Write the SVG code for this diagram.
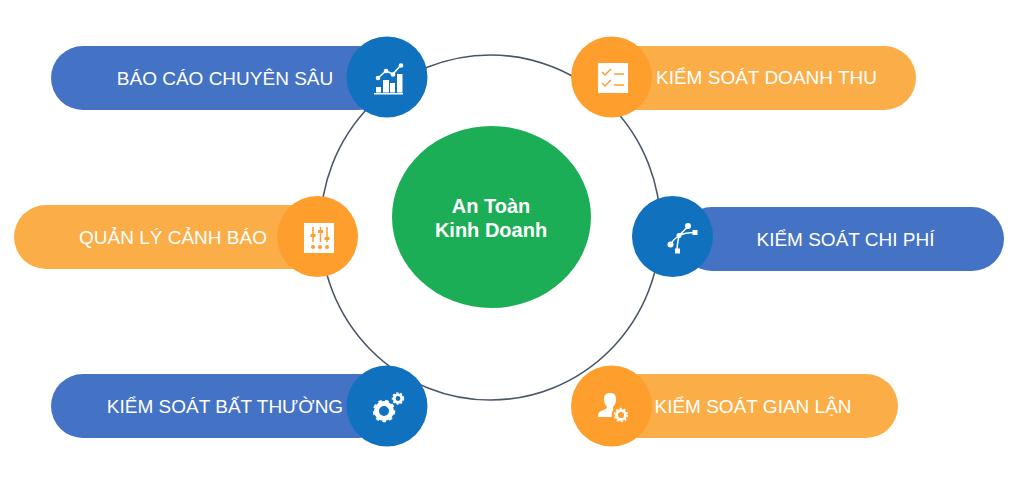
<svg xmlns="http://www.w3.org/2000/svg" width="1024" height="479" viewBox="0 0 1024 479">
<style>
.lbl{font-family:"Liberation Sans",Arial,sans-serif;font-size:19px;fill:#fff;text-anchor:middle}
.title{font-family:"Liberation Sans",Arial,sans-serif;font-size:20px;font-weight:bold;fill:#fff;text-anchor:middle}
.pb{fill:#4472c4}.po{fill:#fbae47}.cb{fill:#1071bf}.co{fill:#fd9e2d}
.w{fill:#fff}.wl{fill:none;stroke:#fff;stroke-width:1.5}
.ol{fill:none;stroke:#fd9e2d;stroke-width:1.5}.of{fill:#fd9e2d}
</style>
<rect width="1024" height="479" fill="#fff"/>
<g id="connectors"><ellipse cx="490.500" cy="227.500" rx="170" ry="172.500" fill="none" stroke="#4a5568" stroke-width="1.6"/></g>
<g id="center"><ellipse cx="491.500" cy="217" rx="99.500" ry="91" fill="#1cae57"/>
<text class="title" x="491" y="213">An Toàn</text><text class="title" x="491" y="237">Kinh Doanh</text></g>
<g id="n1"><rect class="pb" x="51" y="46" width="340" height="64" rx="32"/>
<circle class="cb" cx="387" cy="77" r="40.500"/>
<text class="lbl" x="225" y="85">BÁO CÁO CHUYÊN SÂU</text>
<path class="w" d="M374 93h29v1.500h-29zM376 87h5v5.500h-5zM383 80h6v12.500h-6zM390 83h5v9.500h-5zM397 74h5.500v18.500h-5.500z"/>
<path class="wl" d="M378 78l8-7 7 3 8-9"/><circle class="w" cx="378" cy="78" r="2.300"/><circle class="w" cx="386" cy="71" r="2.300"/><circle class="w" cx="393" cy="74.500" r="2.300"/><circle class="w" cx="401" cy="65.500" r="2.300"/></g>
<g id="n2"><rect class="po" x="590" y="46" width="326" height="64" rx="32"/>
<circle class="co" cx="611.500" cy="77" r="40.500"/>
<text class="lbl" x="766.500" y="84">KIỂM SOÁT DOANH THU</text>
<rect class="w" x="598" y="63" width="30" height="30"/>
<path class="ol" d="M602 72l3 3 6-6M602 83l3 3 6-6M614 74h10M614 85h10"/></g>
<g id="n3"><rect class="po" x="14" y="205" width="320" height="64" rx="32"/>
<circle class="co" cx="317.500" cy="236.500" r="40.500"/>
<text class="lbl" x="173" y="244">QUẢN LÝ CẢNH BÁO</text>
<rect class="w" x="304" y="223" width="30" height="30"/>
<path class="ol" d="M313 227v15M320.500 227v15M327 227v15"/>
<path class="of" d="M310.500 234h5v3h-5zM318 230h5v3h-5zM324.500 237h5v3h-5z"/>
<circle class="of" cx="313" cy="247" r="2"/><circle class="of" cx="320" cy="247" r="2"/><circle class="of" cx="327" cy="247" r="2"/></g>
<g id="n4"><rect class="pb" x="680" y="207" width="324" height="64" rx="32"/>
<circle class="cb" cx="672.500" cy="236.500" r="40.500"/>
<text class="lbl" x="845.500" y="246">KIỂM SOÁT CHI PHÍ</text>
<path class="wl" stroke-width="1" d="M670 244.500c3-4 6-7 9-9M677 251c0-6 1-11 2-15.500M679 235.500c4-2 10-3 16-3M679 235.500c3-3 6-6 9-9"/>
<circle class="w" cx="688" cy="226" r="3"/><rect class="w" x="692.500" y="230" width="5" height="5"/><circle class="w" cx="679" cy="235.500" r="2.500"/><circle class="w" cx="670.500" cy="244.500" r="3"/><rect class="w" x="675" y="248.500" width="5" height="5"/></g>
<g id="n5"><rect class="pb" x="51" y="374" width="340" height="64" rx="32"/>
<circle class="cb" cx="387" cy="406" r="40.500"/>
<text class="lbl" x="225" y="413">KIỂM SOÁT BẤT THƯỜNG</text>
<circle cx="384" cy="411" r="7.500" fill="none" stroke="#fff" stroke-width="5"/>
<circle cx="384" cy="411" r="10" fill="none" stroke="#fff" stroke-width="2.500" stroke-dasharray="3.500 3.354"/>
<circle cx="398" cy="398.500" r="3.800" fill="none" stroke="#fff" stroke-width="2.800"/>
<circle cx="398" cy="398.500" r="5.500" fill="none" stroke="#fff" stroke-width="1.500" stroke-dasharray="2 1.930"/></g>
<g id="n6"><rect class="po" x="590" y="374" width="308" height="64" rx="32"/>
<circle class="co" cx="611.500" cy="406" r="40.500"/>
<text class="lbl" x="753" y="413">KIỂM SOÁT GIAN LẬN</text>
<path class="w" d="M598 417c0-4 1-5 3-6l5-2 1-2c-2-2-3-5-3-8 0-4 2-6 6-6s6 2 6 6c0 3-1 6-3 8v2l4 2 3 6z"/>
<circle class="co" cx="621" cy="415" r="9.500"/>
<circle cx="621" cy="415" r="4.500" fill="none" stroke="#fff" stroke-width="2.800"/>
<circle cx="621" cy="415" r="6.500" fill="none" stroke="#fff" stroke-width="1.500" stroke-dasharray="2 2.080"/></g>
</svg>
